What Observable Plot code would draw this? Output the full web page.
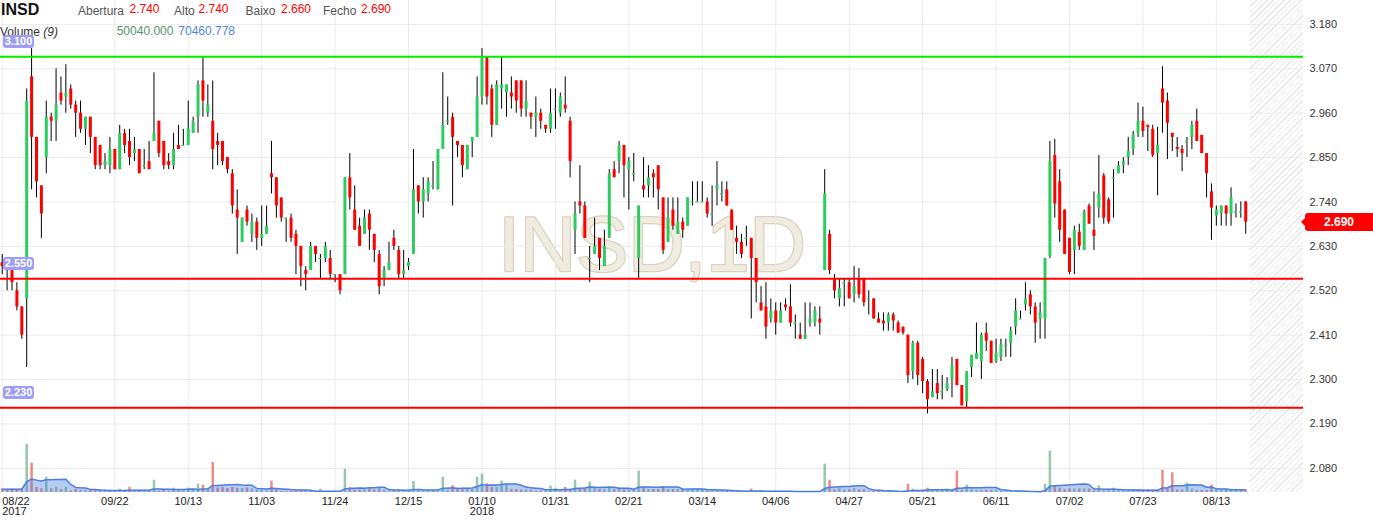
<!DOCTYPE html>
<html>
<head>
<meta charset="utf-8">
<script src="https://cdn.jsdelivr.net/npm/d3@7"></script>
<script src="https://cdn.jsdelivr.net/npm/@observablehq/plot@0.6"></script>
<style>
  html, body { margin: 0; padding: 0; background: #fff; }
  #wrap { position: relative; width: 1373px; height: 520px; overflow: hidden; font-family: "Liberation Sans", Arial, Helvetica, sans-serif; }
  #wrap svg { position: absolute; left: 0; top: 0; }
  .hd { position: absolute; white-space: nowrap; line-height: 1; font-size: 12px; }
  .badge { position: absolute; left: 3px; width: 31px; height: 13px; border-radius: 3px; background: #9e9ef6; color: #fff;
           font-size: 11px; font-weight: bold; line-height: 13px; text-align: center; }
  #last { position: absolute; left: 1305px; width: 68px; height: 18px; border-radius: 3px 0 0 3px; background: #ff0000; color: #fff;
          font-size: 12px; font-weight: bold; line-height: 18px; text-align: center; }
  #lastTip { position: absolute; left: 1301px; width: 0; height: 0; border-top: 4px solid transparent; border-bottom: 4px solid transparent; border-right: 4px solid #ff0000; }
  #hatch { position: absolute; top: 0; height: 492px;
           background: repeating-linear-gradient(135deg, #e6e6e6 0px, #e6e6e6 1px, transparent 1px, transparent 4px); }
</style>
</head>
<body>
<div id="wrap"></div>
<script>
// ---------- data ----------
const opens = [
2.59,2.58,2.57,2.52,2.48,2.50,3.05,2.90,2.78,2.85,
2.95,2.94,3.01,3.00,3.02,2.98,2.96,2.92,2.95,2.90,
2.88,2.83,2.83,2.87,2.82,2.91,2.89,2.86,2.87,2.83,
2.84,2.89,2.94,2.89,2.84,2.83,2.88,2.88,2.88,2.91,
2.95,3.04,2.96,2.94,2.89,2.89,2.85,2.81,2.72,2.64,
2.72,2.66,2.69,2.65,2.66,2.81,2.80,2.75,2.70,2.70,
2.66,2.63,2.57,2.57,2.63,2.60,2.60,2.60,2.56,2.56,
2.56,2.80,2.72,2.68,2.66,2.71,2.66,2.61,2.55,2.57,
2.65,2.62,2.56,2.58,2.61,2.78,2.74,2.76,2.78,2.77,
2.87,2.94,2.95,2.89,2.88,2.82,2.89,2.90,3.00,3.10,
3.02,2.93,3.02,3.01,3.01,3.04,3.04,2.97,2.96,2.95,
2.96,2.93,2.92,2.97,2.96,2.98,2.94,2.67,2.74,2.73,
2.60,2.61,2.65,2.58,2.65,2.82,2.84,2.88,2.82,2.81,
2.60,2.78,2.78,2.81,2.83,2.75,2.64,2.72,2.66,2.69,
2.68,2.74,2.74,2.74,2.74,2.71,2.77,2.76,2.77,2.72,
2.65,2.64,2.65,2.65,2.60,2.49,2.48,2.45,2.47,2.44,
2.485,2.48,2.44,2.41,2.40,2.44,2.44,2.45,2.57,2.66,
2.55,2.50,2.54,2.54,2.51,2.55,2.55,2.50,2.50,2.45,
2.445,2.44,2.46,2.44,2.43,2.41,2.32,2.39,2.35,2.295,
2.255,2.29,2.27,2.275,2.30,2.35,2.285,2.245,2.33,2.35,
2.345,2.415,2.395,2.345,2.355,2.385,2.39,2.43,2.45,2.485,
2.51,2.48,2.45,2.45,2.605,2.855,2.79,2.72,2.65,2.62,
2.665,2.62,2.73,2.67,2.725,2.805,2.745,2.80,2.81,2.83,
2.85,2.87,2.91,2.94,2.93,2.92,2.86,3.02,2.99,2.91,
2.875,2.87,2.89,2.90,2.94,2.905,2.86,2.765,2.705,2.71,
2.73,2.71,2.715,2.715,2.74];
const highs = [
2.61,2.60,2.59,2.54,2.48,3.02,3.12,2.90,2.78,2.99,
2.96,3.07,3.05,3.08,3.03,2.99,2.99,2.95,2.95,2.90,
2.88,2.86,2.90,2.87,2.93,2.92,2.92,2.90,2.87,2.87,
2.89,3.06,2.94,2.89,2.86,2.91,2.93,2.92,2.99,2.95,
3.04,3.10,3.03,3.04,2.91,2.89,2.85,2.82,2.77,2.70,
2.73,2.71,2.70,2.73,2.73,2.89,2.80,2.75,2.70,2.71,
2.67,2.63,2.58,2.64,2.63,2.61,2.64,2.62,2.56,2.56,
2.80,2.86,2.78,2.70,2.72,2.72,2.66,2.62,2.58,2.64,
2.67,2.63,2.62,2.60,2.87,2.78,2.80,2.80,2.84,2.87,
3.06,3.00,2.96,2.89,2.88,2.88,2.90,3.05,3.12,3.10,
3.03,3.04,3.10,3.03,3.05,3.04,3.04,3.04,2.96,3.00,
2.97,2.93,3.02,3.02,3.01,3.05,2.95,2.74,2.83,2.74,
2.63,2.70,2.65,2.67,2.82,2.84,2.89,2.88,2.85,2.86,
2.73,2.85,2.83,2.82,2.83,2.75,2.75,2.75,2.75,2.70,
2.75,2.79,2.79,2.79,2.75,2.78,2.84,2.79,2.79,2.72,
2.68,2.66,2.68,2.65,2.60,2.53,2.54,2.50,2.49,2.49,
2.50,2.535,2.46,2.44,2.49,2.49,2.48,2.48,2.82,2.67,
2.56,2.55,2.55,2.55,2.58,2.575,2.55,2.52,2.50,2.465,
2.465,2.465,2.465,2.445,2.43,2.41,2.395,2.395,2.355,2.30,
2.325,2.325,2.31,2.305,2.355,2.35,2.285,2.32,2.36,2.44,
2.415,2.44,2.395,2.40,2.40,2.40,2.43,2.50,2.47,2.54,
2.52,2.49,2.49,2.60,2.89,2.895,2.82,2.72,2.65,2.68,
2.685,2.72,2.735,2.765,2.855,2.81,2.75,2.82,2.84,2.85,
2.90,2.915,2.985,2.975,2.93,2.93,2.925,3.075,3.01,2.91,
2.90,2.88,2.90,2.94,2.97,2.905,2.86,2.785,2.73,2.73,
2.73,2.775,2.735,2.74,2.74];
const lows = [
2.56,2.52,2.52,2.47,2.40,2.33,2.77,2.75,2.65,2.81,
2.89,2.89,2.98,2.96,2.97,2.90,2.91,2.88,2.86,2.82,
2.82,2.82,2.81,2.82,2.82,2.86,2.83,2.84,2.81,2.82,
2.82,2.89,2.85,2.82,2.82,2.82,2.87,2.88,2.88,2.91,
2.91,2.95,2.95,2.82,2.83,2.83,2.81,2.71,2.61,2.64,
2.68,2.64,2.62,2.63,2.66,2.76,2.70,2.69,2.64,2.64,
2.56,2.53,2.52,2.57,2.59,2.55,2.59,2.55,2.54,2.51,
2.56,2.72,2.67,2.63,2.66,2.62,2.59,2.51,2.53,2.57,
2.62,2.55,2.55,2.57,2.61,2.71,2.70,2.74,2.77,2.77,
2.87,2.93,2.73,2.85,2.80,2.82,2.85,2.90,2.98,2.98,
2.90,2.93,2.97,2.95,2.97,2.96,2.95,2.95,2.92,2.90,
2.92,2.91,2.91,2.92,2.95,2.96,2.80,2.61,2.71,2.65,
2.54,2.61,2.57,2.58,2.65,2.80,2.81,2.75,2.72,2.79,
2.55,2.75,2.75,2.75,2.72,2.61,2.64,2.67,2.66,2.65,
2.68,2.73,2.74,2.74,2.70,2.68,2.73,2.74,2.73,2.67,
2.61,2.60,2.63,2.45,2.49,2.47,2.40,2.44,2.41,2.44,
2.47,2.43,2.40,2.40,2.40,2.43,2.43,2.41,2.57,2.56,
2.50,2.48,2.48,2.50,2.49,2.50,2.48,2.46,2.45,2.44,
2.42,2.42,2.42,2.415,2.41,2.29,2.30,2.285,2.265,2.215,
2.255,2.25,2.25,2.27,2.255,2.285,2.235,2.23,2.305,2.35,
2.30,2.37,2.34,2.34,2.345,2.355,2.355,2.41,2.45,2.47,
2.46,2.39,2.40,2.40,2.60,2.70,2.64,2.61,2.56,2.56,
2.62,2.62,2.685,2.62,2.70,2.685,2.685,2.70,2.81,2.81,
2.83,2.855,2.90,2.90,2.865,2.85,2.755,2.91,2.845,2.865,
2.85,2.815,2.85,2.87,2.89,2.86,2.75,2.645,2.68,2.68,
2.68,2.68,2.70,2.70,2.66];
const closes = [
2.58,2.57,2.54,2.48,2.41,2.99,2.90,2.79,2.71,2.95,
2.94,2.98,2.99,3.01,2.98,2.96,2.92,2.95,2.90,2.83,
2.83,2.84,2.87,2.82,2.91,2.88,2.85,2.87,2.81,2.83,
2.82,2.91,2.86,2.83,2.83,2.87,2.87,2.88,2.92,2.94,
3.03,2.99,2.98,2.87,2.88,2.84,2.82,2.73,2.70,2.70,
2.69,2.69,2.65,2.66,2.68,2.80,2.73,2.70,2.70,2.65,
2.63,2.58,2.56,2.63,2.61,2.60,2.63,2.56,2.56,2.52,
2.80,2.75,2.67,2.63,2.70,2.67,2.62,2.53,2.57,2.59,
2.63,2.56,2.57,2.59,2.77,2.74,2.77,2.79,2.78,2.87,
2.93,2.94,2.90,2.88,2.83,2.88,2.90,3.00,3.10,3.00,
2.93,3.03,3.03,3.03,3.00,2.99,2.97,2.99,2.95,2.96,
2.94,2.92,2.96,2.97,3.00,2.97,2.84,2.71,2.73,2.65,
2.60,2.63,2.60,2.63,2.81,2.80,2.88,2.83,2.84,2.81,
2.73,2.77,2.80,2.80,2.77,2.62,2.70,2.68,2.69,2.67,
2.75,2.74,2.74,2.74,2.71,2.71,2.78,2.76,2.73,2.67,
2.64,2.61,2.65,2.60,2.54,2.47,2.43,2.47,2.44,2.47,
2.478,2.44,2.44,2.40,2.41,2.45,2.47,2.44,2.76,2.57,
2.52,2.525,2.54,2.50,2.53,2.51,2.49,2.50,2.45,2.44,
2.438,2.46,2.445,2.415,2.415,2.31,2.39,2.31,2.295,2.25,
2.27,2.265,2.27,2.29,2.335,2.285,2.235,2.32,2.36,2.365,
2.41,2.395,2.34,2.365,2.385,2.385,2.42,2.47,2.45,2.50,
2.48,2.44,2.465,2.60,2.84,2.735,2.67,2.61,2.565,2.67,
2.63,2.715,2.685,2.655,2.76,2.70,2.69,2.80,2.83,2.84,
2.865,2.905,2.94,2.915,2.925,2.855,2.88,2.985,2.935,2.90,
2.87,2.86,2.89,2.93,2.89,2.86,2.81,2.725,2.72,2.73,
2.71,2.75,2.715,2.715,2.69];
// volume, thousands of shares
const volumes = [
86,78,91,78,91,1261,765,131,97,399,
97,138,78,138,44,78,52,52,52,47,
47,47,47,47,86,39,138,52,39,52,
39,321,31,52,31,112,39,31,112,65,
217,191,78,783,117,131,104,131,112,104,
117,91,52,52,39,295,70,26,26,26,
26,26,26,26,21,86,21,21,21,21,
608,131,63,63,63,97,63,97,63,39,
39,39,52,39,287,39,39,39,39,39,
399,52,175,112,78,78,78,399,478,227,
131,131,295,201,78,78,65,65,65,39,
39,39,164,112,39,131,78,321,78,78,
269,112,78,78,149,78,78,65,65,78,
556,131,78,78,78,157,78,78,78,78,
86,86,86,78,39,39,39,39,39,39,
39,23,23,86,23,23,23,23,23,23,
23,23,23,23,23,23,23,23,739,321,
70,97,70,70,97,70,70,23,23,23,
23,23,23,23,23,217,86,47,47,112,
47,47,47,47,47,556,52,191,86,57,
57,57,57,57,21,21,21,21,21,21,
21,21,21,217,1078,157,112,70,91,91,
91,91,91,39,175,39,39,112,39,39,
39,65,65,65,65,65,65,582,112,514,
65,65,243,86,52,52,52,191,52,52,
52,82,52,52,50.04];
const volumeReadout = [50040.000, 70460.778];   // Volume (9): last, 9-period average

const dateIdx    = [0, 23, 38, 53, 68, 83, 98, 113, 128, 143, 158, 173, 188, 203, 218, 233, 248];
const dateLabels = ["08/22","09/22","10/13","11/03","11/24","12/15","01/10","01/31","02/21","03/14","04/06","04/27","05/21","06/11","07/02","07/23","08/13"];
const yearLabels = ["2017","","","","","","2018","","","","","","","","","",""];
const yTicks = [2.08, 2.19, 2.30, 2.41, 2.52, 2.63, 2.74, 2.85, 2.96, 3.07, 3.18];
const resistance = [3.10];
const supports = [2.55, 2.23];
const xDomain = [-0.35, 265.8];
const priceDomain = [2.0202, 3.2392];
const volDomain = [0, 1800];

// ---------- build ----------
const font = "'Liberation Sans', Arial, Helvetica, sans-serif";
const UP = "#2ecc60", DOWN = "#ff0000";
const n = closes.length;
const candles = d3.range(n).map(i => ({i, open: opens[i], high: highs[i], low: lows[i], close: closes[i], vol: volumes[i]}));
const upC = candles.filter(d => d.close > d.open);
const downC = candles.filter(d => d.close < d.open);
const dojiC = candles.filter(d => d.close === d.open);
const ticks = dateIdx.map((i, k) => ({i, label: yearLabels[k] ? dateLabels[k] + "\n" + yearLabels[k] : dateLabels[k]}));

const base = {
  width: 1373, height: 520, marginLeft: 0, marginRight: 70, marginBottom: 28,
  x: {type: "linear", domain: xDomain, axis: null},
  style: {background: "transparent", fontFamily: font, overflow: "visible"}
};

const main = Plot.plot({
  ...base, marginTop: 0,
  y: {domain: priceDomain, axis: null, label: null},
  marks: [
    Plot.text(["INSD,1D"], {frameAnchor: "middle", fontSize: 78, fill: "#f0ece1", stroke: "#dcd2bb", strokeWidth: 2.5}),
    Plot.gridY(yTicks, {stroke: "#ebebeb", strokeOpacity: 1}),
    Plot.gridX(dateIdx, {stroke: "#ebebeb", strokeOpacity: 1}),
    Plot.ruleX(candles, {x: "i", y1: "low", y2: "high", stroke: "#000", strokeWidth: 1}),
    Plot.ruleX(upC, {x: "i", y1: "open", y2: "close", stroke: UP, strokeWidth: 3}),
    Plot.ruleX(downC, {x: "i", y1: "open", y2: "close", stroke: DOWN, strokeWidth: 3}),
    Plot.ruleY(dojiC, {y: "open", x1: d => d.i - 0.3, x2: d => d.i + 0.3, stroke: UP, strokeWidth: 1.2}),
    Plot.ruleY(resistance, {stroke: "#00ee00", strokeWidth: 2}),
    Plot.ruleY(supports, {stroke: "#ff0000", strokeWidth: 2}),
    Plot.axisY(yTicks, {anchor: "right", tickSize: 0, tickPadding: 6, tickFormat: d => d.toFixed(3), fontSize: 11, fill: "#333", label: null}),
    Plot.text(ticks.slice(0, 1), {x: "i", text: "label", frameAnchor: "bottom", lineAnchor: "top", dy: 6, textAnchor: "start", fontSize: 11, lineHeight: 0.87, fill: "#222"}),
    Plot.text(ticks.slice(1), {x: "i", text: "label", frameAnchor: "bottom", lineAnchor: "top", dy: 6, textAnchor: "middle", fontSize: 11, lineHeight: 0.87, fill: "#222"})
  ]
});

const vol = Plot.plot({
  ...base, marginTop: 423,
  y: {domain: volDomain, axis: null, label: null},
  marks: [
    Plot.ruleX(candles.filter(d => d.close >= d.open), {x: "i", y: "vol", stroke: "#2f8f5a", strokeOpacity: 0.5, strokeWidth: 2.5}),
    Plot.ruleX(downC, {x: "i", y: "vol", stroke: "#e0402f", strokeOpacity: 0.6, strokeWidth: 2.5}),
    Plot.areaY(candles, Plot.windowY({k: 9, anchor: "end", reduce: "mean"}, {x: "i", y: "vol", fill: "#4a7fe0", fillOpacity: 0.4})),
    Plot.lineY(candles, Plot.windowY({k: 9, anchor: "end", reduce: "mean"}, {x: "i", y: "vol", stroke: "#4a7fe0", strokeWidth: 1.5}))
  ]
});

const wrap = document.getElementById("wrap");
const sx = main.scale("x"), sy = main.scale("y");
const fx = sx.apply ? v => sx.apply(v) : d3.scaleLinear(sx.domain, sx.range);
const fy = sy.apply ? v => sy.apply(v) : d3.scaleLinear(sy.domain, sy.range);

// future (hatched) zone after the last session
const hatch = document.createElement("div");
hatch.id = "hatch";
const hx = fx(n);
hatch.style.left = hx + "px";
hatch.style.width = (fx(xDomain[1]) - hx) + "px";
wrap.append(hatch);
wrap.append(main);
wrap.append(vol);

// header
function hd(text, left, top, css) {
  const s = document.createElement("div");
  s.className = "hd";
  s.textContent = text;
  s.style.left = left + "px";
  s.style.top = top + "px";
  Object.assign(s.style, css || {});
  wrap.append(s);
  return s;
}
const fmt3 = v => v.toFixed(3);
hd("INSD", 1, 1.5, {fontSize: "16px", fontWeight: "bold", color: "#111"});
hd("Abertura", 78, 5, {color: "#555"});  hd(fmt3(opens[n - 1]), 129.5, 3, {color: "#ff0000"});
hd("Alto", 174, 5, {color: "#555"});      hd(fmt3(highs[n - 1]), 198.5, 3, {color: "#ff0000"});
hd("Baixo", 245.5, 5, {color: "#555"});   hd(fmt3(lows[n - 1]), 281, 3, {color: "#ff0000"});
hd("Fecho", 323, 5, {color: "#555"});     hd(fmt3(closes[n - 1]), 361, 3, {color: "#ff0000"});
const vl = hd("Volume ", 0, 26, {color: "#333"});
const it = document.createElement("i"); it.textContent = "(9)"; vl.append(it);
hd(fmt3(volumeReadout[0]), 116.7, 25, {color: "#5a9270"});
hd(fmt3(volumeReadout[1]), 178.3, 25, {color: "#4f87e0"});

// level badges
resistance.concat(supports).forEach(v => {
  const b = document.createElement("div");
  b.className = "badge";
  b.textContent = fmt3(v);
  b.style.top = (fy(v) - 15 - 6.5) + "px";
  wrap.append(b);
});

// last price label
const lastY = fy(closes[n - 1]);
const lab = document.createElement("div");
lab.id = "last"; lab.textContent = fmt3(closes[n - 1]); lab.style.top = (lastY - 9) + "px";
const tip = document.createElement("div");
tip.id = "lastTip"; tip.style.top = (lastY - 4) + "px";
wrap.append(tip, lab);
</script>
</body>
</html>
